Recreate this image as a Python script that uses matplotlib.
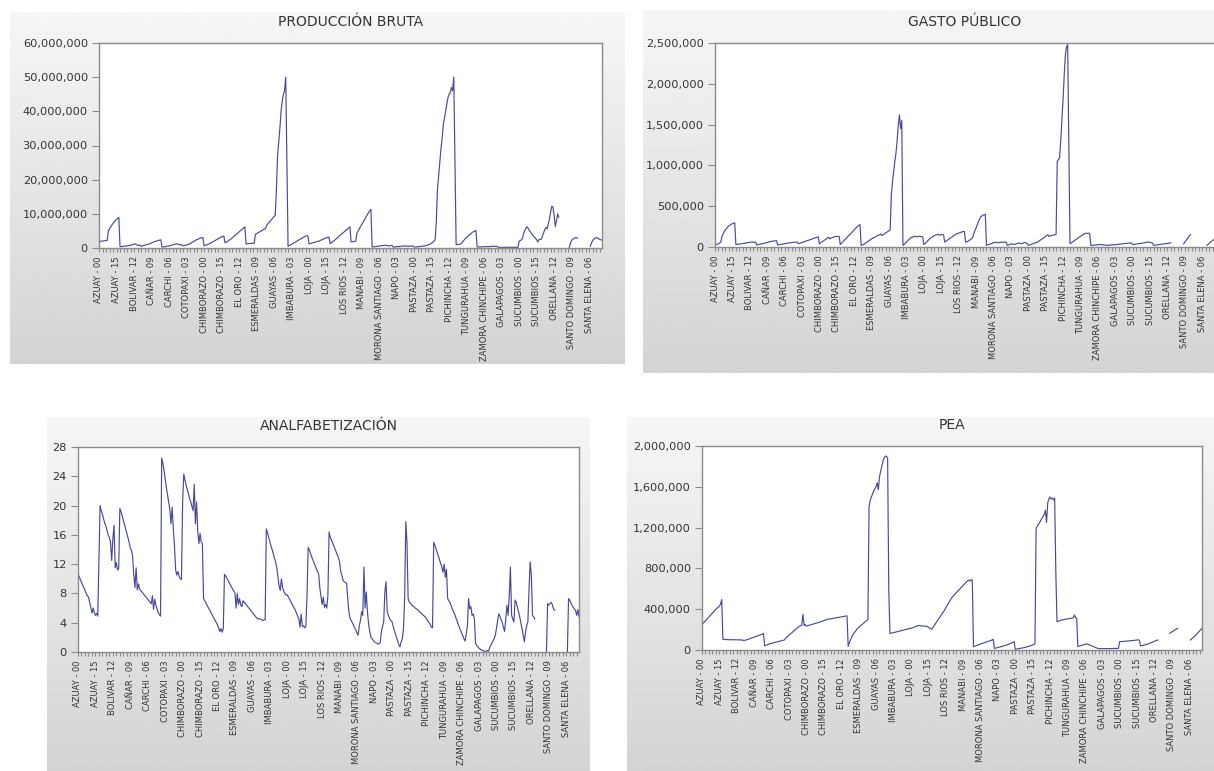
import matplotlib
matplotlib.use("Agg")
import matplotlib.pyplot as plt
import numpy as np
from matplotlib.ticker import FuncFormatter, MultipleLocator

nan = np.nan

provinces = ["AZUAY", "BOLIVAR", "CAÑAR", "CARCHI", "COTOPAXI", "CHIMBORAZO",
             "EL ORO", "ESMERALDAS", "GUAYAS", "IMBABURA", "LOJA", "LOS RIOS",
             "MANABI", "MORONA SANTIAGO", "NAPO", "PASTAZA", "PICHINCHA",
             "TUNGURAHUA", "ZAMORA CHINCHIPE", "GALAPAGOS", "SUCUMBIOS",
             "ORELLANA", "SANTO DOMINGO", "SANTA ELENA"]
n_years = 18  # 2000 - 2017

# produccion bruta (millones)
prod = [
    [1.9, 1.9, 2.0, 2.0, 2.1, 2.1, 2.2, 2.2, 5.0, 5.6, 6.2, 6.7, 7.2, 7.6, 8.0, 8.4, 8.7, 9.0],
    [0.4, 0.4, 0.5, 0.5, 0.5, 0.6, 0.6, 0.7, 0.7, 0.8, 0.9, 1.0, 1.1, 1.2, 1.0, 0.8, 0.8, 0.9],
    [0.5, 0.6, 0.7, 0.8, 0.9, 1.0, 1.1, 1.2, 1.3, 1.5, 1.6, 1.8, 1.9, 2.0, 2.1, 2.2, 2.3, 2.4],
    [0.3, 0.3, 0.4, 0.4, 0.5, 0.6, 0.6, 0.7, 0.8, 0.9, 1.0, 1.1, 1.2, 1.2, 1.1, 1.0, 0.9, 1.0],
    [0.6, 0.7, 0.8, 0.9, 1.0, 1.1, 1.3, 1.5, 1.7, 1.9, 2.1, 2.3, 2.5, 2.6, 2.8, 2.9, 3.0, 3.1],
    [0.6, 0.8, 0.9, 1.0, 1.2, 1.3, 1.5, 1.7, 1.9, 2.1, 2.3, 2.5, 2.7, 2.9, 3.1, 3.3, 3.4, 3.5],
    [1.5, 1.7, 1.9, 2.1, 2.4, 2.6, 2.9, 3.2, 3.5, 3.8, 4.1, 4.4, 4.7, 5.0, 5.3, 5.6, 5.9, 6.2],
    [1.2, 1.2, 1.3, 1.3, 1.3, 1.4, 1.4, 1.4, 4.0, 4.2, 4.4, 4.6, 4.8, 5.0, 5.2, 5.4, 5.6, 6.0],
    [6.8, 7.2, 7.6, 8.0, 8.4, 8.8, 9.2, 9.6, 17.0, 27.0, 31.0, 35.0, 40.0, 43.0, 45.0, 46.0, 50.0, 25.0],
    [0.5, 0.7, 0.9, 1.1, 1.3, 1.5, 1.7, 1.9, 2.1, 2.3, 2.5, 2.7, 2.9, 3.1, 3.3, 3.5, 3.6, 3.5],
    [1.2, 1.3, 1.4, 1.5, 1.6, 1.7, 1.8, 1.9, 2.0, 2.1, 2.3, 2.4, 2.6, 2.7, 2.9, 3.0, 3.1, 3.2],
    [1.3, 1.5, 1.8, 2.0, 2.3, 2.6, 2.9, 3.2, 3.5, 3.8, 4.1, 4.4, 4.7, 5.0, 5.3, 5.6, 5.9, 6.2],
    [1.8, 1.8, 1.9, 1.9, 2.0, 4.3, 5.0, 5.6, 6.2, 6.8, 7.4, 8.0, 8.6, 9.2, 9.8, 10.4, 10.9, 11.3],
    [0.3, 0.3, 0.4, 0.4, 0.5, 0.5, 0.6, 0.6, 0.7, 0.7, 0.8, 0.8, 0.8, 0.7, 0.6, 0.6, 0.7, 0.8],
    [0.3, 0.3, 0.3, 0.4, 0.4, 0.4, 0.5, 0.5, 0.5, 0.6, 0.6, 0.6, 0.5, 0.5, 0.5, 0.6, 0.6, 0.6],
    [0.3, 0.3, 0.3, 0.4, 0.4, 0.4, 0.5, 0.5, 0.6, 0.6, 0.7, 0.8, 0.9, 1.0, 1.2, 1.4, 1.7, 2.0],
    [2.4, 7.5, 17.0, 21.0, 25.0, 29.0, 32.0, 36.0, 38.0, 40.0, 42.0, 44.0, 45.0, 45.5, 47.0, 46.0, 50.0, 25.0],
    [1.0, 1.0, 1.1, 1.1, 1.2, 1.5, 2.0, 2.4, 2.8, 3.1, 3.4, 3.7, 4.0, 4.3, 4.6, 4.8, 5.0, 5.1],
    [0.3, 0.3, 0.3, 0.3, 0.3, 0.4, 0.4, 0.4, 0.4, 0.4, 0.4, 0.4, 0.5, 0.5, 0.5, 0.5, 0.5, 0.5],
    [0.2, 0.2, 0.2, 0.2, 0.2, 0.2, 0.2, 0.2, 0.2, 0.2, 0.2, 0.2, 0.2, 0.2, 0.2, 0.2, 0.2, 0.2],
    [2.0, 2.2, 2.4, 3.0, 4.5, 5.2, 5.9, 6.2, 5.5, 5.0, 4.6, 4.0, 3.6, 3.2, 2.9, 2.4, 1.8, 2.5],
    [2.5, 2.6, 3.5, 4.5, 5.4, 6.0, 5.6, 7.0, 8.5, 10.5, 12.2, 12.0, 9.5, 6.3, 8.0, 10.0, 9.0, nan],
    [nan, nan, nan, nan, nan, nan, nan, 0.2, 1.5, 2.2, 2.6, 2.8, 3.0, 3.0, 2.9, nan, nan, nan],
    [nan, nan, nan, nan, nan, nan, nan, 0.5, 1.5, 2.2, 2.6, 2.9, 3.0, 3.0, 2.8, 2.5, 2.4, 2.3],
]

# gasto publico (miles)
gasto = [
    [25, 30, 35, 40, 50, 60, 130, 160, 190, 210, 230, 245, 260, 270, 280, 285, 290, 295],
    [30, 32, 34, 36, 38, 40, 42, 45, 48, 50, 52, 55, 58, 60, 62, 58, 55, 60],
    [25, 28, 30, 33, 36, 40, 44, 48, 52, 56, 60, 64, 68, 70, 72, 74, 76, 78],
    [25, 28, 30, 32, 35, 38, 40, 42, 45, 48, 50, 52, 54, 56, 58, 60, 58, 60],
    [40, 45, 50, 55, 60, 65, 70, 75, 80, 85, 90, 95, 100, 105, 110, 115, 120, 125],
    [40, 50, 60, 70, 80, 90, 100, 110, 120, 100, 110, 115, 120, 125, 130, 128, 130, 130],
    [30, 45, 60, 75, 90, 105, 120, 135, 150, 165, 180, 195, 210, 225, 240, 255, 265, 275],
    [20, 25, 30, 40, 50, 60, 70, 80, 90, 100, 110, 115, 120, 130, 140, 145, 150, 160],
    [140, 150, 160, 170, 180, 190, 200, 210, 640, 800, 930, 1050, 1150, 1300, 1500, 1620, 1450, 1550],
    [20, 30, 45, 60, 75, 90, 105, 115, 120, 125, 130, 128, 125, 130, 132, 130, 128, 125],
    [30, 40, 55, 70, 85, 100, 110, 120, 130, 140, 145, 150, 155, 150, 145, 150, 155, 150],
    [60, 70, 80, 90, 100, 110, 120, 130, 140, 150, 160, 165, 170, 175, 180, 185, 190, 190],
    [60, 65, 70, 80, 90, 100, 110, 160, 200, 230, 270, 310, 340, 370, 380, 390, 395, 400],
    [20, 25, 30, 35, 40, 45, 50, 55, 60, 55, 50, 55, 60, 58, 55, 60, 62, 60],
    [20, 25, 30, 35, 40, 35, 30, 35, 40, 45, 50, 45, 40, 45, 50, 55, 50, 45],
    [20, 25, 30, 35, 40, 45, 50, 55, 60, 70, 80, 90, 100, 110, 120, 130, 140, 150],
    [130, 135, 140, 145, 148, 150, 152, 1050, 1070, 1090, 1300, 1550, 1800, 2100, 2350, 2450, 2480, 1250],
    [40, 50, 60, 70, 80, 90, 100, 110, 120, 130, 140, 150, 160, 165, 170, 165, 170, 160],
    [20, 20, 22, 24, 25, 26, 28, 30, 30, 28, 26, 25, 24, 22, 20, 22, 24, 25],
    [25, 26, 27, 28, 30, 32, 34, 35, 36, 38, 40, 42, 44, 45, 46, 48, 50, 48],
    [30, 32, 34, 36, 38, 40, 42, 44, 46, 48, 50, 55, 60, 62, 58, 55, 52, 50],
    [20, 22, 24, 26, 28, 30, 32, 34, 36, 38, 40, 42, 44, 46, 48, 50, nan, nan],
    [nan, nan, nan, nan, nan, nan, nan, nan, 40, 60, 80, 100, 120, 140, 150, nan, nan, nan],
    [nan, nan, nan, nan, nan, nan, nan, nan, nan, nan, 20, 30, 45, 60, 70, 80, 90, 100],
]

# analfabetizacion (%)
analf = [
    [10.7, 10.3, 9.9, 9.5, 9.1, 8.8, 8.4, 8.0, 7.7, 7.5, 6.8, 6.1, 5.3, 6.0, 5.4, 5.0, 5.3, 4.9],
    [12.5, 20.0, 19.3, 18.8, 18.2, 17.6, 17.2, 16.6, 16.0, 15.6, 15.0, 12.5, 15.5, 17.3, 11.5, 12.2, 11.2, 11.4],
    [19.6, 19.2, 18.6, 18.0, 17.4, 16.8, 16.2, 15.6, 15.0, 14.2, 13.9, 13.0, 10.5, 8.8, 11.5, 8.5, 9.3, 8.6],
    [8.4, 8.2, 8.0, 7.8, 7.6, 7.4, 7.2, 7.0, 6.8, 6.6, 7.7, 5.8, 7.2, 6.4, 5.9, 5.4, 5.1, 4.9],
    [26.5, 25.8, 24.8, 23.6, 22.5, 21.5, 20.5, 19.5, 17.5, 19.8, 16.8, 14.5, 11.2, 10.5, 11.0, 10.3, 10.0, 9.9],
    [20.5, 24.3, 23.5, 22.8, 22.2, 21.6, 21.0, 20.5, 19.9, 19.3, 22.9, 17.5, 20.5, 16.5, 14.8, 16.2, 15.0, 14.8],
    [7.3, 7.0, 6.7, 6.4, 6.1, 5.8, 5.5, 5.2, 4.9, 4.6, 4.3, 4.0, 3.7, 3.3, 2.8, 3.2, 2.7, 3.2],
    [10.6, 10.4, 10.1, 9.8, 9.5, 9.2, 8.9, 8.6, 8.3, 8.1, 6.0, 8.0, 6.5, 7.3, 6.4, 6.2, 7.0, 6.8],
    [6.6, 6.4, 6.2, 6.0, 5.8, 5.6, 5.4, 5.2, 5.0, 4.8, 4.6, 4.5, 4.6, 4.5, 4.4, 4.3, 4.4, 4.4],
    [16.8, 16.3, 15.7, 15.1, 14.5, 14.0, 13.4, 12.8, 12.3, 11.5, 10.2, 9.0, 8.4, 10.0, 8.8, 8.3, 8.0, 7.8],
    [7.8, 7.5, 7.2, 6.9, 6.6, 6.3, 6.0, 5.7, 5.3, 4.9, 4.5, 3.4, 5.2, 3.5, 3.6, 3.3, 3.5, 7.6],
    [14.3, 13.9, 13.5, 13.0, 12.6, 12.2, 11.8, 11.4, 11.0, 10.7, 8.8, 7.6, 6.5, 7.5, 6.1, 6.5, 6.0, 7.8],
    [16.4, 15.7, 15.3, 14.9, 14.5, 14.1, 13.7, 13.3, 12.9, 12.3, 11.0, 10.5, 9.8, 9.6, 9.5, 9.4, 7.5, 5.5],
    [4.6, 4.3, 4.0, 3.7, 3.3, 3.0, 2.6, 2.3, 3.6, 4.3, 5.5, 5.0, 11.6, 6.0, 8.2, 5.5, 3.8, 2.8],
    [2.0, 1.8, 1.6, 1.4, 1.3, 1.2, 1.1, 1.1, 1.3, 2.8, 3.5, 4.2, 8.2, 9.6, 5.5, 5.0, 4.6, 4.3],
    [4.2, 3.6, 3.0, 2.5, 2.0, 1.5, 1.0, 0.7, 1.4, 1.8, 3.2, 7.3, 17.8, 15.0, 7.3, 6.8, 6.7, 6.4],
    [6.3, 6.2, 6.0, 5.9, 5.8, 5.6, 5.5, 5.3, 5.2, 5.0, 4.9, 4.7, 4.5, 4.2, 4.0, 3.8, 3.4, 3.3],
    [15.0, 14.6, 14.1, 13.6, 13.1, 12.6, 12.1, 11.6, 10.9, 12.0, 10.2, 11.3, 7.3, 7.0, 6.8, 6.3, 5.9, 5.5],
    [5.2, 4.7, 4.3, 3.8, 3.4, 3.0, 2.6, 2.2, 1.8, 1.5, 2.5, 3.5, 7.3, 5.9, 6.2, 5.0, 5.2, 4.5],
    [1.2, 0.9, 0.7, 0.5, 0.4, 0.3, 0.2, 0.15, 0.1, 0.1, 0.2, 0.1, 0.5, 0.9, 1.2, 1.5, 1.8, 2.3],
    [3.2, 4.3, 5.2, 4.9, 4.4, 4.0, 3.4, 2.8, 4.5, 6.4, 5.0, 7.7, 11.6, 5.0, 4.5, 4.1, 7.1, 6.8],
    [6.1, 5.5, 4.8, 4.0, 3.2, 2.3, 1.4, 2.7, 3.6, 4.1, 8.5, 12.3, 10.5, 5.0, 4.8, 4.5, nan, nan],
    [nan, nan, nan, nan, nan, nan, nan, 0.0, 6.6, 6.4, 6.6, 6.8, 6.5, 5.9, 5.7, nan, nan, nan],
    [nan, nan, nan, nan, nan, nan, nan, 0.0, 7.3, 7.1, 6.7, 6.4, 6.1, 5.9, 5.7, 5.0, 5.8, 4.8],
]

# PEA (miles)
pea = [
    [250, 262, 275, 287, 300, 312, 325, 337, 350, 362, 375, 387, 400, 410, 420, 430, 450, 495],
    [105, 104, 103, 102, 102, 101, 101, 100, 100, 100, 100, 100, 100, 99, 99, 99, 99, 98],
    [92, 95, 98, 102, 106, 110, 114, 118, 122, 126, 130, 134, 138, 142, 146, 150, 155, 163],
    [40, 45, 50, 55, 60, 63, 66, 69, 72, 75, 78, 81, 84, 87, 90, 92, 95, 98],
    [115, 125, 135, 145, 155, 165, 175, 185, 195, 205, 215, 225, 232, 238, 245, 350, 240, 250],
    [235, 238, 241, 244, 248, 252, 255, 258, 261, 264, 268, 272, 276, 280, 284, 288, 291, 295],
    [300, 302, 304, 306, 308, 310, 312, 314, 316, 318, 320, 322, 324, 326, 328, 330, 332, 335],
    [35, 70, 100, 125, 150, 165, 180, 195, 210, 220, 230, 240, 250, 260, 270, 280, 290, 300],
    [1400, 1470, 1500, 1530, 1560, 1580, 1600, 1640, 1570, 1700, 1750, 1800, 1850, 1880, 1900, 1900, 1880, 590],
    [163, 165, 168, 170, 173, 176, 179, 182, 185, 188, 191, 194, 197, 200, 203, 206, 208, 210],
    [212, 215, 220, 225, 230, 235, 239, 240, 238, 237, 236, 235, 234, 233, 232, 225, 218, 212],
    [203, 220, 237, 254, 271, 288, 305, 322, 339, 356, 373, 390, 410, 430, 450, 470, 490, 507],
    [523, 535, 547, 559, 571, 583, 595, 607, 619, 631, 643, 655, 668, 680, 686, 675, 690, 685],
    [33, 36, 40, 45, 50, 55, 59, 62, 66, 70, 74, 78, 82, 86, 90, 94, 98, 105],
    [16, 18, 21, 24, 27, 30, 33, 36, 40, 43, 46, 50, 55, 60, 65, 70, 75, 82],
    [7, 9, 11, 13, 15, 17, 19, 21, 24, 27, 30, 33, 37, 41, 45, 50, 55, 60],
    [1190, 1215, 1230, 1250, 1270, 1290, 1310, 1330, 1370, 1250, 1440, 1480, 1500, 1480, 1490, 1470, 1490, 760],
    [278, 282, 286, 290, 294, 296, 298, 300, 302, 304, 306, 308, 310, 312, 315, 343, 320, 310],
    [33, 37, 41, 45, 49, 52, 55, 58, 59, 55, 50, 45, 40, 35, 30, 25, 20, 16],
    [13, 13, 13, 13, 13, 13, 14, 14, 14, 14, 14, 15, 15, 15, 15, 16, 16, 16],
    [82, 82, 83, 84, 85, 86, 86, 87, 88, 89, 90, 91, 92, 94, 96, 98, 100, 95],
    [40, 42, 45, 48, 52, 55, 58, 62, 65, 70, 75, 80, 85, 90, 95, 98, nan, nan],
    [nan, nan, nan, nan, nan, nan, nan, 163, 170, 178, 185, 192, 200, 206, 212, nan, nan, nan],
    [nan, nan, nan, nan, nan, nan, nan, 98, 108, 118, 128, 138, 150, 162, 175, 188, 200, 212],
]

W, H = 1214, 771
LINE = "#4a4a9c"
FRAME = "#8a8a8a"
TXT = "#333333"

plt.rcParams["font.family"] = "DejaVu Sans"
fig = plt.figure(figsize=(W / 100, H / 100), dpi=100)

# gray gradient panels behind the charts
bg = fig.add_axes([0, 0, 1, 1])
bg.set_xlim(0, W)
bg.set_ylim(H, 0)
bg.axis("off")
grad = np.linspace(0.965, 0.83, 200).reshape(-1, 1)
for x0, x1, y0, y1 in [(10, 625, 12, 364), (643, 1214, 10, 373),
                       (47, 590, 417, 771), (627, 1214, 417, 771)]:
    bg.imshow(grad, extent=(x0, x1, y1, y0), cmap="gray", vmin=0, vmax=1,
              aspect="auto", interpolation="bilinear")

n_obs = len(provinces) * n_years
obs = np.arange(n_obs)
tick_pos = list(range(0, n_obs, 15))
tick_lab = ["%s - %02d" % (provinces[i // n_years], i % n_years) for i in tick_pos]


def panel(left, top, right, bottom, rows, scale, ymax, step, title):
    ax = fig.add_axes([left / W, 1 - bottom / H, (right - left) / W, (bottom - top) / H])
    vals = np.concatenate([np.array(r, dtype=float) for r in rows]) * scale
    ax.plot(obs, vals, color=LINE, lw=0.85)
    ax.set_xlim(0, n_obs - 1)
    ax.set_ylim(0, ymax)
    ax.yaxis.set_major_locator(MultipleLocator(step))
    ax.yaxis.set_major_formatter(FuncFormatter(lambda v, p: "{:,.0f}".format(v)))
    ax.set_xticks(tick_pos)
    ax.set_xticklabels(tick_lab, rotation=90, fontsize=6.0, color=TXT)
    ax.xaxis.set_minor_locator(MultipleLocator(3))
    ax.tick_params(axis="y", labelsize=8.2, labelcolor=TXT, color=FRAME,
                   length=5, width=0.8, pad=3)
    ax.tick_params(axis="x", which="both", color=FRAME, length=3, width=0.8, pad=3)
    for s in ax.spines.values():
        s.set_color(FRAME)
        s.set_linewidth(1.0)
    ax.set_facecolor("white")
    fig.text((left + right) / 2 / W, 1 - (top - 21) / H, title, ha="center",
             va="center", fontsize=10, color=TXT)
    return ax


panel(99, 43, 602, 248, prod, 1e6, 60e6, 10e6, "PRODUCCIÓN BRUTA")
panel(715, 43, 1215, 247, gasto, 1e3, 2.5e6, 0.5e6, "GASTO PÚBLICO")
panel(78, 447, 579, 652, analf, 1, 28, 4, "ANALFABETIZACIÓN")
panel(702, 446, 1202, 650, pea, 1e3, 2e6, 0.4e6, "PEA")

fig.savefig("out.png", dpi=100)
